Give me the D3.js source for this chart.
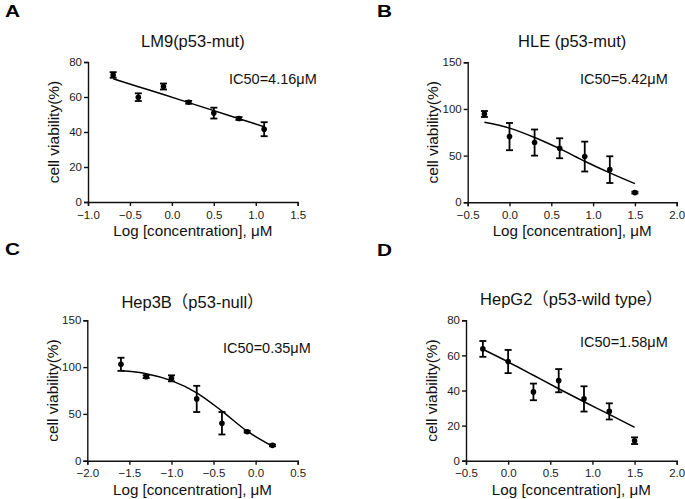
<!DOCTYPE html>
<html>
<head>
<meta charset="utf-8">
<script src="https://cdn.jsdelivr.net/npm/d3@7"></script>
<style>
  body { margin: 0; background: #fff; }
  svg { font-family: "Liberation Sans", Arial, "Noto Sans CJK SC", sans-serif; }
  .tick text { fill: #1a1a1a; }
</style>
</head>
<body>
<svg id="fig" width="685" height="499"></svg>
<script>

// ---- data ----
const letters = ['A', 'B', 'C', 'D'];
const titles = ['LM9(p53-mut)', 'HLE (p53-mut)', 'Hep3B\uFF08p53-null\uFF09', 'HepG2\uFF08p53-wild type\uFF09'];
const ic50Labels = ['IC50=4.16\u03BCM', 'IC50=5.42\u03BCM', 'IC50=0.35\u03BCM', 'IC50=1.58\u03BCM'];

const xA = [-0.7, -0.4, -0.1, 0.2, 0.5, 0.8, 1.1];
const meanA = [72.6, 59.9, 66.0, 57.0, 50.8, 47.7, 41.6];
const errA = [1.6, 2.2, 1.7, 0.8, 3.1, 0.8, 4.0];
const fitA = [70.4, 65.9, 61.4, 56.8, 52.2, 47.6, 43.0];

const xB = [-0.3, 0.0, 0.3, 0.6, 0.9, 1.2, 1.5];
const meanB = [94.6, 70.4, 64.0, 57.9, 49.0, 35.0, 10.4];
const errB = [3.2, 14.6, 14.0, 10.7, 16.0, 14.3, 1.0];
const fitB = [85.7, 79.5, 69.5, 57.5, 44.0, 31.5, 20.0];

const xC = [-1.6, -1.3, -1.0, -0.7, -0.4, -0.1, 0.2];
const meanC = [103.0, 89.8, 88.0, 66.0, 40.0, 31.0, 16.4];
const errC = [7.0, 1.5, 3.2, 14.0, 12.0, 1.0, 1.0];
const fitC = [96.0, 93.0, 85.5, 72.5, 53.0, 31.5, 15.5];

const xD = [-0.3, 0.0, 0.3, 0.6, 0.9, 1.2, 1.5];
const meanD = [63.7, 56.5, 39.2, 45.6, 35.2, 28.1, 11.4];
const errD = [4.5, 6.6, 4.75, 6.6, 7.2, 4.6, 1.9];
const fitD = [63.5, 56.3, 48.7, 41.0, 33.6, 26.4, 19.0];

const xDomains = [[-1.0, 1.5], [-0.5, 2.0], [-2.0, 0.5], [-0.5, 2.0]];
const yMax = [80, 150, 150, 80];
const yTicks = [[0, 20, 40, 60, 80], [0, 50, 100, 150], [0, 50, 100, 150], [0, 20, 40, 60, 80]];

const series = [
  { x: xA, mean: meanA, err: errA, fit: fitA },
  { x: xB, mean: meanB, err: errB, fit: fitB },
  { x: xC, mean: meanC, err: errC, fit: fitC },
  { x: xD, mean: meanD, err: errD, fit: fitD }
];

// ---- layout ----
const boxes = [
  { x0: 88, x1: 297.7, top: 62, bottom: 202, titleY: 47, icX: 229, icY: 84, letX: 5, letY: 17 },
  { x0: 467.7, x1: 676.7, top: 62.3, bottom: 202.3, titleY: 47, icX: 580, icY: 83.5, letX: 377, letY: 17 },
  { x0: 87.3, x1: 297.7, top: 320.3, bottom: 460.7, titleY: 308, icX: 223, icY: 352.5, letX: 5, letY: 255 },
  { x0: 466, x1: 676.7, top: 320.3, bottom: 460.7, titleY: 304.5, icX: 580, icY: 346.5, letX: 377, letY: 256 }
];

const svg = d3.select('#fig');

boxes.forEach((b, i) => {
  const s = series[i];
  const g = svg.append('g').attr('class', `panel p${i}`);

  const x = d3.scaleLinear().domain(xDomains[i]).range([b.x0, b.x1]);
  const y = d3.scaleLinear().domain([0, yMax[i]]).range([b.bottom, b.top]);

  // axes
  const xAxis = d3.axisBottom(x)
    .tickValues(d3.range(xDomains[i][0], xDomains[i][1] + 0.01, 0.5))
    .tickFormat(d3.format('.1f'))
    .tickSizeOuter(0).tickSize(4).tickPadding(4.5);
  const yAxis = d3.axisLeft(y)
    .tickValues(yTicks[i])
    .tickSizeOuter(0).tickSize(4).tickPadding(2);

  g.append('g')
    .attr('transform', `translate(0,${b.bottom})`)
    .call(xAxis)
    .call(a => a.selectAll('text').attr('font-size', 11.5).attr('font-family', null))
    .call(a => a.selectAll('path, line').attr('stroke', '#111').attr('stroke-width', 1.4));

  g.append('g')
    .attr('transform', `translate(${b.x0},0)`)
    .call(yAxis)
    .call(a => a.selectAll('text').attr('font-size', 11.5).attr('font-family', null))
    .call(a => a.selectAll('path, line').attr('stroke', '#111').attr('stroke-width', 1.4));

  // fitted curve
  const line = d3.line()
    .x(d => x(d[0]))
    .y(d => y(d[1]))
    .curve(d3.curveMonotoneX);

  g.append('path')
    .datum(d3.zip(s.x, s.fit))
    .attr('d', line)
    .attr('fill', 'none')
    .attr('stroke', '#000')
    .attr('stroke-width', 1.5);

  const pts = d3.zip(s.x, s.mean, s.err);

  // error bars
  const eb = g.selectAll('.eb').data(pts)
    .join('g')
    .attr('class', 'eb')
    .attr('stroke', '#000')
    .attr('stroke-width', 1.8);
  eb.append('line')
    .attr('x1', d => x(d[0])).attr('x2', d => x(d[0]))
    .attr('y1', d => y(d[1] - d[2])).attr('y2', d => y(d[1] + d[2]));
  eb.append('line')
    .attr('x1', d => x(d[0]) - 3.5).attr('x2', d => x(d[0]) + 3.5)
    .attr('y1', d => y(d[1] + d[2])).attr('y2', d => y(d[1] + d[2]));
  eb.append('line')
    .attr('x1', d => x(d[0]) - 3.5).attr('x2', d => x(d[0]) + 3.5)
    .attr('y1', d => y(d[1] - d[2])).attr('y2', d => y(d[1] - d[2]));

  // points
  g.selectAll('.dot').data(pts)
    .join('circle')
    .attr('class', 'dot')
    .attr('cx', d => x(d[0]))
    .attr('cy', d => y(d[1]))
    .attr('r', 2.8)
    .attr('fill', '#000');

  // texts
  const cx = (b.x0 + b.x1) / 2;
  g.append('text')
    .attr('x', cx).attr('y', b.titleY)
    .attr('text-anchor', 'middle')
    .attr('font-size', 16.5)
    .attr('fill', '#111')
    .text(titles[i]);

  g.append('text')
    .attr('x', b.icX).attr('y', b.icY)
    .attr('font-size', 14.5)
    .attr('fill', '#111')
    .text(ic50Labels[i]);

  g.append('text')
    .attr('x', cx).attr('y', b.bottom + 34)
    .attr('text-anchor', 'middle')
    .attr('font-size', 15.2)
    .attr('fill', '#111')
    .text('Log [concentration], \u03BCM');

  g.append('text')
    .attr('transform', `translate(${b.x0 - 29.5},${(b.top + b.bottom) / 2}) rotate(-90)`)
    .attr('text-anchor', 'middle')
    .attr('font-size', 15.5)
    .attr('fill', '#111')
    .text('cell viability(%)');

  g.append('text')
    .attr('transform', `translate(${b.letX},${b.letY}) scale(1.3,1)`)
    .attr('font-size', 16)
    .attr('font-weight', 'bold')
    .attr('fill', '#000')
    .text(letters[i]);
});
</script>
</body>
</html>
